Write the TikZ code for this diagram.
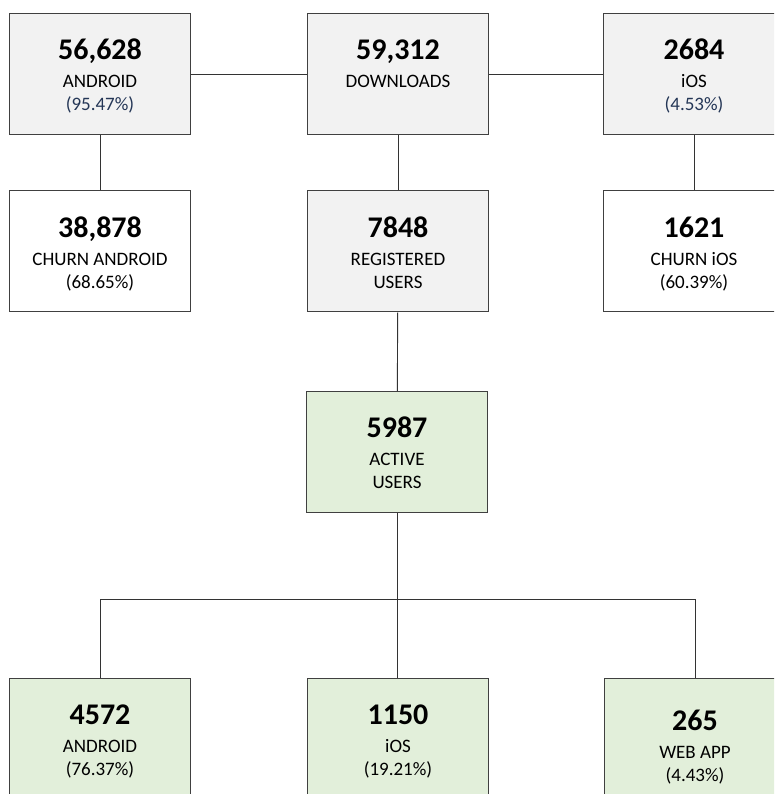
\documentclass[tikz,border=0pt]{standalone}
\usepackage{fontspec}
\setmainfont{Carlito}
\usetikzlibrary{calc}
\definecolor{boxGrey}{HTML}{F2F2F2}
\definecolor{boxGreen}{HTML}{E2EFDA}
\definecolor{edgeGrey}{HTML}{404040}
\definecolor{pctBlue}{HTML}{243656}
% three text lines of a box: number, label, second line
\newcommand{\boxText}[5][0pt]{%
    \node[numText] (#2-num) at ([yshift=-47pt-#1]#2.north) {#3};
    \node[lblText] (#2-lbl) at ([yshift=-75pt-#1]#2.north) {#4};
    \node[lblText] (#2-pct) at ([yshift=-98pt-#1]#2.north) {#5};}

\begin{document}
\begin{tikzpicture}[x=1pt,y=-1pt,
    box/.style={draw=edgeGrey,line width=1.3pt,anchor=north,
        minimum width=181pt,minimum height=121pt,inner sep=0pt},
    greyBox/.style={box,fill=boxGrey},
    whiteBox/.style={box,fill=white},
    greenBox/.style={box,fill=boxGreen},
    numText/.style={anchor=base,inner sep=0pt,
        font=\fontsize{30}{32}\selectfont\bfseries},
    lblText/.style={anchor=base,inner sep=0pt,
        font=\fontsize{19}{22}\selectfont},
    link/.style={draw=black!80,line width=0.9pt}]
    \clip (0,0) rectangle (774,794);

    \node[greyBox]  (android)    at (100,13)  {};
    \node[greyBox]  (downloads)  at (398,13)  {};
    \node[greyBox]  (ios)        at (694,13)  {};
    \node[whiteBox] (churnAnd)   at (100,190) {};
    \node[greyBox]  (registered) at (398,190) {};
    \node[whiteBox] (churnIos)   at (694,190) {};
    \node[greenBox] (active)     at (397,391) {};
    \node[greenBox] (actAnd)     at (100,678) {};
    \node[greenBox] (actIos)     at (398,678) {};
    \node[greenBox] (actWeb)     at (695,678) {};

    \boxText{android}{56,628}{ANDROID}{\color{pctBlue}(95.47\%)}
    \boxText{downloads}{59,312}{DOWNLOADS}{}
    \boxText{ios}{2684}{iOS}{\color{pctBlue}(4.53\%)}
    \boxText{churnAnd}{38,878}{CHURN ANDROID}{(68.65\%)}
    \boxText{registered}{7848}{REGISTERED}{USERS}
    \boxText{churnIos}{1621}{CHURN iOS}{(60.39\%)}
    \boxText[-1pt]{active}{5987}{ACTIVE}{USERS}
    \boxText[-1pt]{actAnd}{4572}{ANDROID}{(76.37\%)}
    \boxText[-1pt]{actIos}{1150}{iOS}{(19.21\%)}
    \boxText[5pt]{actWeb}{265}{WEB APP}{(4.43\%)}

    \coordinate (bar) at (0,599);
    \draw[link] (android) -- (downloads);
    \draw[link] (downloads) -- (ios);
    \draw[link] (android) -- (churnAnd);
    \draw[link] (downloads) -- (registered);
    \draw[link] (ios) -- (churnIos);
    \draw[link] (registered) -- (active);
    \draw[link] (active.south) -- (active.south |- actIos.north);
    \draw[link] (actAnd.north) -- (actAnd.north |- bar) -- (actWeb.north |- bar) -- (actWeb.north);

\end{tikzpicture}
\end{document}
